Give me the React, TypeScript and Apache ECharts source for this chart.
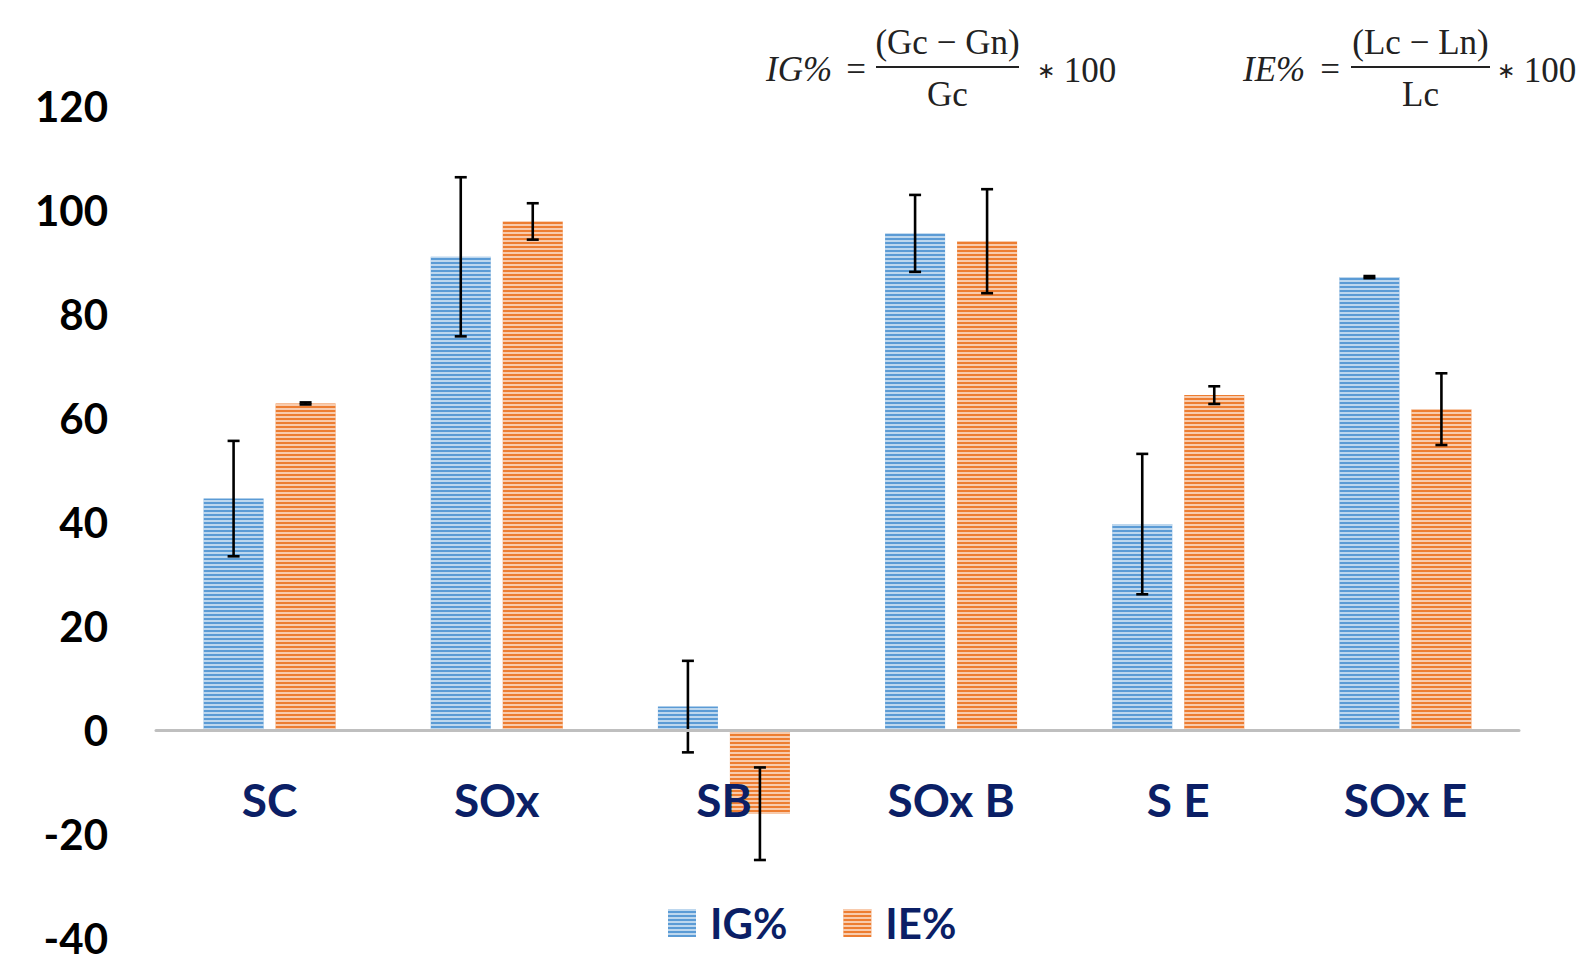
import React, { useEffect, useRef } from "react";
import * as echarts from "echarts";

const categories = ["SC", "SOx", "SB", "SOx B", "S E", "SOx E"];
const igValues = [44.5, 91.0, 4.5, 95.5, 39.6, 87.1];
const igErrors = [11.1, 15.3, 8.8, 7.4, 13.5, 0.2];
const ieValues = [62.8, 97.8, -16.1, 94.0, 64.4, 61.7];
const ieErrors = [0.2, 3.5, 8.9, 10.0, 1.7, 6.9];
const yTicks = { min: -40, max: 120, interval: 20 };

const BAR_W = 60;
const BAR_GAP = 12;
const NAVY = "#0B1F66";
const FONT = "Lato";

function errData(values: number[], errs: number[]) {
  return values.map((v, i) => [i, v - errs[i], v + errs[i]]);
}

function errSeries(name: string, values: number[], errs: number[], side: number) {
  return {
    type: "custom",
    name: name + " err",
    z: 5,
    silent: true,
    encode: { x: 0, y: [1, 2] },
    data: errData(values, errs),
    renderItem: (params: any, api: any) => {
      const i = api.value(0);
      const lo = api.coord([i, api.value(1)]);
      const hi = api.coord([i, api.value(2)]);
      const x = lo[0] + side * (BAR_W + BAR_GAP) / 2;
      const cap = 6;
      const st = { stroke: "#000", lineWidth: 2.6 };
      return {
        type: "group",
        children: [
          { type: "line", shape: { x1: x, y1: lo[1], x2: x, y2: hi[1] }, style: st },
          { type: "line", shape: { x1: x - cap, y1: lo[1], x2: x + cap, y2: lo[1] }, style: st },
          { type: "line", shape: { x1: x - cap, y1: hi[1], x2: x + cap, y2: hi[1] }, style: st },
        ],
      };
    },
  };
}

const decal = {
  symbol: "rect",
  symbolSize: 1,
  dashArrayX: [1, 0],
  dashArrayY: [2, 2],
  rotation: 0,
  color: "rgba(255,255,255,0.6)",
};

function formula(prefix: string, num: string, den: string, xLeft: number, xEq: number, x1: number, x2: number, xTail: number) {
  const cx = (x1 + x2) / 2;
  const f = "35px 'Liberation Serif'";
  const col = "#222";
  return [
    { type: "text", x: xLeft, y: 69, style: { text: prefix, font: "italic 35px 'Liberation Serif'", fill: col, textVerticalAlign: "middle" } },
    { type: "text", x: xEq, y: 69, style: { text: "=", font: f, fill: col, textAlign: "center", textVerticalAlign: "middle" } },
    { type: "text", x: cx, y: 42, style: { text: num, font: f, fill: col, textAlign: "center", textVerticalAlign: "middle" } },
    { type: "line", shape: { x1, y1: 67, x2, y2: 67 }, style: { stroke: col, lineWidth: 2 } },
    { type: "text", x: cx, y: 94, style: { text: den, font: f, fill: col, textAlign: "center", textVerticalAlign: "middle" } },
    {
      type: "text",
      x: xTail,
      y: 70,
      style: {
        text: "{a|\u2217} 100",
        font: f,
        fill: col,
        textVerticalAlign: "middle",
        rich: { a: { fontSize: 22, fontFamily: "Liberation Serif", fill: col } },
      },
    },
  ];
}

export default function App() {
  const ref = useRef<HTMLDivElement>(null);
  useEffect(() => {
    const chart = echarts.init(ref.current!, null, { renderer: "svg" });
    chart.setOption({
      animation: false,
      backgroundColor: "#fff",
      grid: { left: 156, right: 60, top: 106, bottom: 17, containLabel: false, outerBoundsMode: "none" },
      legend: {
        data: ["IG%", "IE%"],
        left: 663,
        top: 897,
        icon: "rect",
        itemWidth: 28,
        itemHeight: 28,
        itemGap: 56,
        textStyle: { fontFamily: FONT, fontWeight: "bold", fontSize: 42, color: NAVY, padding: [0, 0, 0, 9] },
      },
      xAxis: {
        type: "category",
        data: categories,
        z: 10,
        axisLine: { onZero: true, lineStyle: { color: "#BFBFBF", width: 3 } },
        axisTick: { show: false },
        axisLabel: { margin: -162, fontFamily: FONT, fontWeight: "bold", fontSize: 46, color: NAVY },
      },
      yAxis: {
        type: "value",
        min: yTicks.min,
        max: yTicks.max,
        interval: yTicks.interval,
        splitLine: { show: false },
        axisLine: { show: false },
        axisTick: { show: false },
        axisLabel: { margin: 48, fontFamily: FONT, fontWeight: "bold", fontSize: 42, color: "#000" },
      },
      graphic: [
        ...formula("IG%", "(Gc \u2212 Gn)", "Gc", 766, 856, 876, 1019, 1037),
        ...formula("IE%", "(Lc \u2212 Ln)", "Lc", 1243, 1330, 1351, 1490, 1497),
      ],
      series: [
        {
          type: "bar",
          name: "IG%",
          data: igValues,
          barWidth: BAR_W,
          barGap: (BAR_GAP / BAR_W) * 100 + "%",
          itemStyle: { color: "#5B9BD5", decal },
        },
        {
          type: "bar",
          name: "IE%",
          data: ieValues,
          barWidth: BAR_W,
          barGap: (BAR_GAP / BAR_W) * 100 + "%",
          itemStyle: { color: "#ED7D31", decal },
        },
        errSeries("IG%", igValues, igErrors, -1),
        errSeries("IE%", ieValues, ieErrors, 1),
      ],
    });
    return () => chart.dispose();
  }, []);
  return <div ref={ref} style={{ position: "fixed", left: 0, top: 0, width: 1579, height: 955 }} />;
}
